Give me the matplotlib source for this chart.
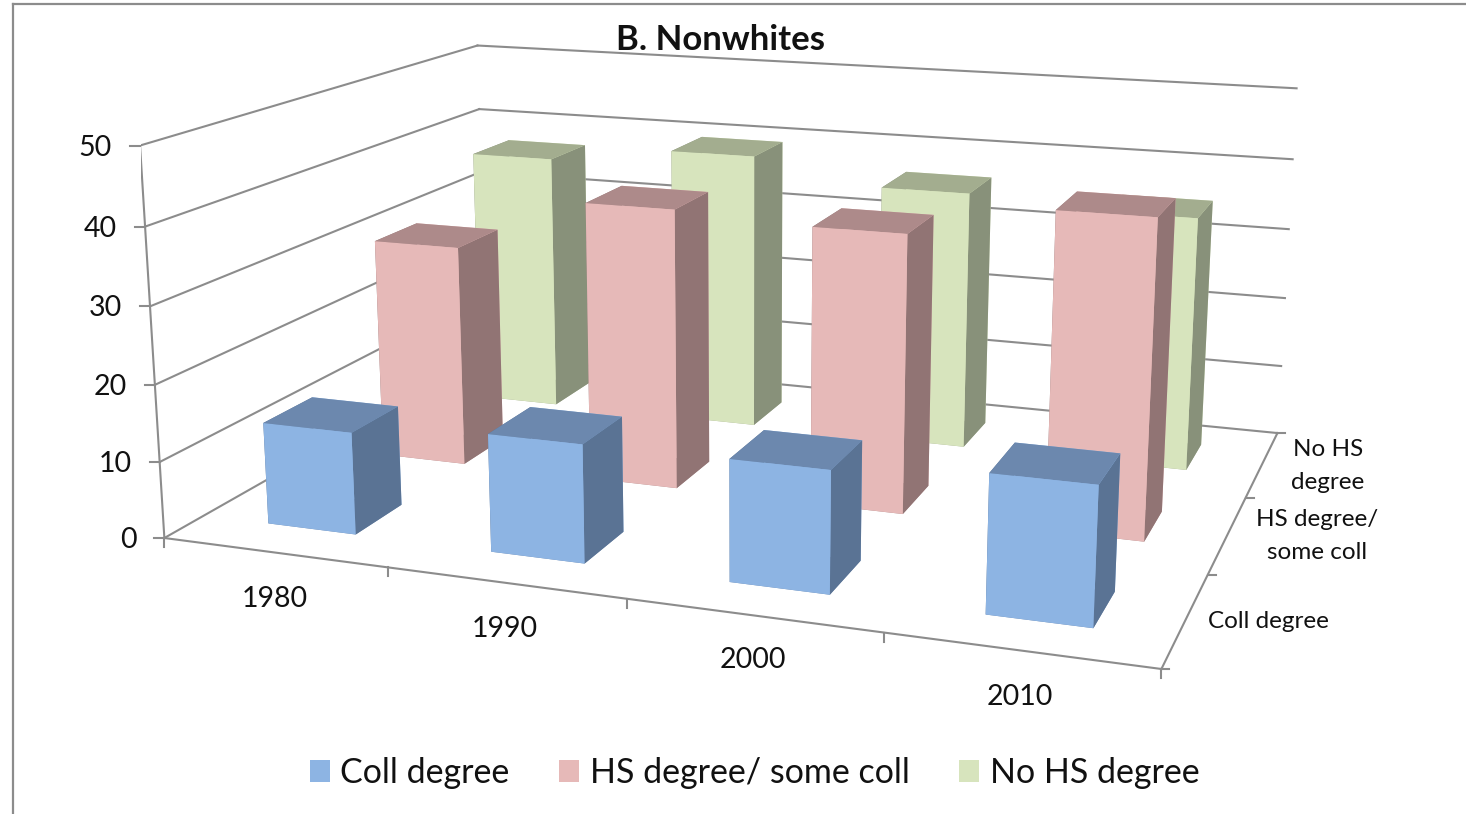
import numpy as np
import matplotlib
matplotlib.use("Agg")
import matplotlib.pyplot as plt
from matplotlib.patches import Patch
from matplotlib.lines import Line2D
from mpl_toolkits.mplot3d import proj3d

plt.rcParams['font.family'] = ['Lato', 'DejaVu Sans']

# ── Data ──────────────────────────────────────────────────────────
YEARS = ['1980', '1990', '2000', '2010']
SERIES = ['Coll degree', 'HS degree/ some coll', 'No HS degree']
DEPTH_LABELS = ['Coll degree', 'HS degree/\nsome coll', 'No HS\ndegree']
COLL = [13.4, 15.2, 15.4, 17.1]
HS = [30.5, 38.0, 37.1, 41.5]
NOHS = [37.2, 39.6, 36.4, 35.2]
ZTICKS = [0, 10, 20, 30, 40, 50]

GREY = '#8c8c8c'
INK = '#111111'
FACES = [
    ['#8DB4E3', '#6C88AE', '#5A7394'],
    ['#E6B9B8', '#AD8A8A', '#917474'],
    ['#D7E4BD', '#A3AD8F', '#88917A'],
]
DX, DY = 0.4, 0.4

W, H = 1466, 814
fig = plt.figure(figsize=(W / 100, H / 100), dpi=100)

# camera and axes box fitted to the wall corners of the original
S = 1202.63
ax = fig.add_axes([141.19 / W, -105.49 / H, S / W, S / H], projection='3d',
                  computed_zorder=False)
ax.set_xlim(0, 4)
ax.set_ylim(0, 3)
ax.set_zlim(0, 50)
ax.view_init(14.006, -70.535, -0.063)
ax.set_proj_type('persp', focal_length=0.3706)
ax.set_box_aspect((1.3594, 1, 0.5410))
ax.set_axis_off()
ax.patch.set_alpha(0)


def to_px(x, y, z):
    u, v, _ = proj3d.proj_transform(x, y, z, ax.get_proj())
    return ax.transData.transform((u, v))


def seg(x0, y0, x1, y1, lw=1.5):
    # pixel coordinates from the top left corner
    fig.add_artist(Line2D([x0 / W, x1 / W], [1 - y0 / H, 1 - y1 / H],
                          color=GREY, lw=lw, transform=fig.transFigure))


def tick(x, y, z, dx, dy):
    px, py = to_px(x, y, z)
    py = H - py
    seg(px, py, px + dx, py + dy)
    return px, py


def line(xs, ys, zs):
    ax.plot(xs, ys, zs, color=GREY, lw=1.5, zorder=1)


# walls and floor edges
for z in ZTICKS:
    line([0, 0], [0, 3], [z, z])
    line([0, 4], [3, 3], [z, z])
line([0, 0], [0, 0], [0, 50])
line([0, 4], [0, 0], [0, 0])
line([4, 4], [0, 3], [0, 0])

# bars, back row first
rows = [COLL, HS, NOHS]
for r in (2, 1, 0):
    front, top, side = FACES[r]
    for i, h in enumerate(rows[r]):
        ax.bar3d(i + .5 - DX / 2, r + .5 - DY / 2, 0, DX, DY, h,
                 color=[top, top, front, front, side, side], shade=False,
                 linewidth=0, zorder=10 - r)

# ticks and tick labels
for z in ZTICKS:
    px, py = tick(0, 0, z, -10, 0)
    fig.text((px - 28) / W, 1 - (py + 2) / H, str(z), fontsize=20.5, ha='right',
             va='center', color=INK)
for i in range(5):
    tick(i, 0, 0, 0, 9)
for j in range(4):
    tick(4, j, 0, 8, 0)

YEAR_POS = [(275, 599), (505, 629), (753, 660), (1020, 697)]
for label, (px, py) in zip(YEARS, YEAR_POS):
    fig.text(px / W, 1 - py / H, label, fontsize=20.5, ha='center', va='center',
             color=INK)

DEPTH_POS = [(1268, 621), (1317, 536), (1328, 466)]
for label, (px, py) in zip(DEPTH_LABELS, DEPTH_POS):
    fig.text(px / W, 1 - py / H, label, fontsize=17.5, ha='center', va='center',
             color=INK, linespacing=1.7)

fig.text(720 / W, 1 - 40 / H, 'B. Nonwhites', fontsize=25, fontweight='bold',
         ha='center', va='center', color=INK)

handles = [Patch(facecolor=f[0], edgecolor='none') for f in FACES]
fig.legend(handles, SERIES, loc='center', bbox_to_anchor=(754.5 / W, 1 - 773 / H),
           ncol=3, frameon=False, fontsize=24.5, handlelength=0.6, handleheight=0.6,
           handletextpad=0.3, columnspacing=1.45, labelcolor=INK)

# outer chart border, cut off by the crop on the right and at the bottom
seg(12.5, 4, W, 4, lw=1.6)
seg(12.5, 4, 12.5, H, lw=1.6)

fig.savefig('out.png', dpi=100)
